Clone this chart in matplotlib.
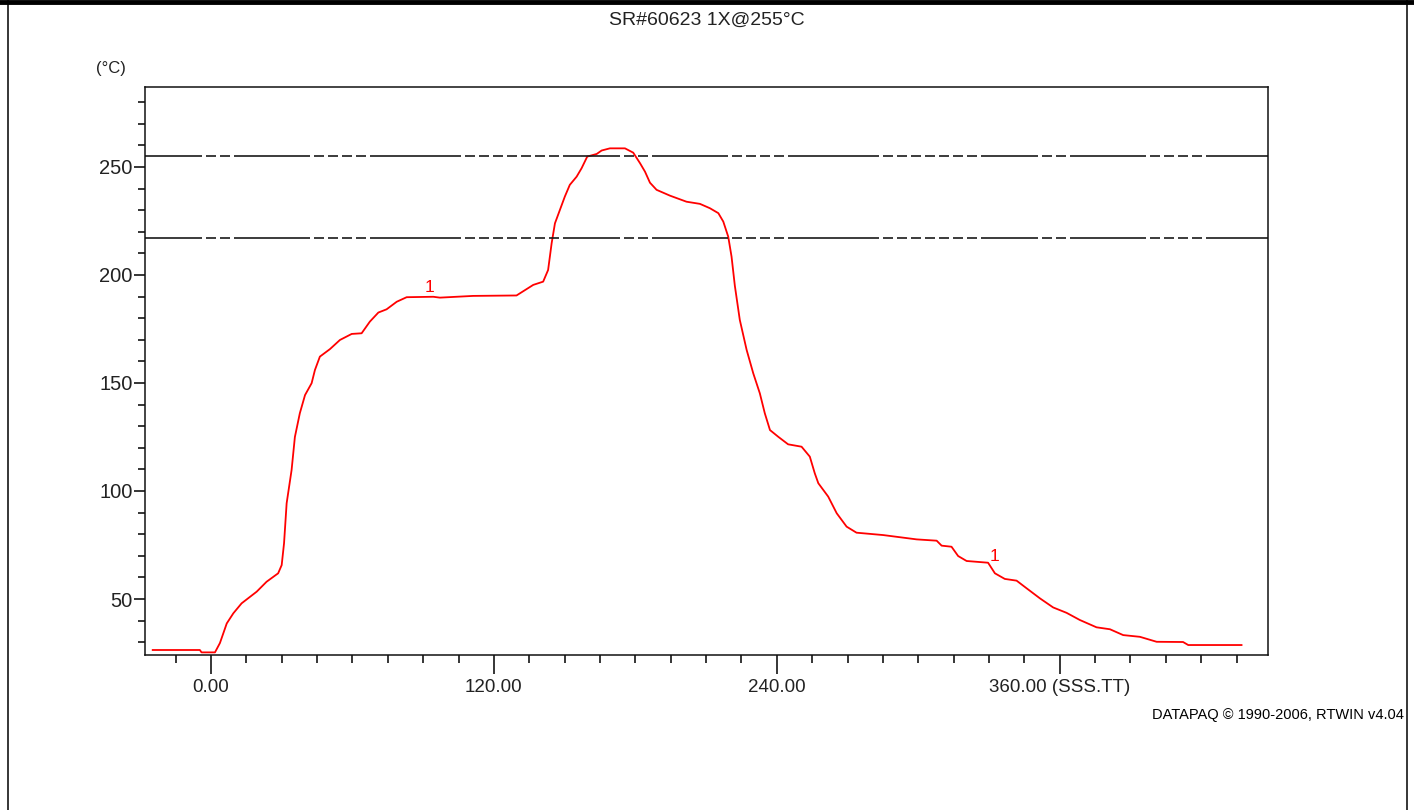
import numpy as np
import matplotlib
matplotlib.use("Agg")
import matplotlib.pyplot as plt
from matplotlib.lines import Line2D

###############################################################################
# Data (time in s, temperature in degC)
###############################################################################
timeS = [-24.7, -4.7, -4.0, 1.7, 3.8, 6.7, 9.5, 13.0, 19.4, 23.6, 28.5, 30.0,
         31.0, 32.1, 34.2, 35.6, 37.7, 39.9, 42.7, 44.1, 46.2, 50.5, 54.7,
         59.7, 63.9, 67.4, 71.0, 74.5, 78.8, 83.0, 94.3, 97.1, 111.2, 129.6,
         136.7, 140.9, 143.0, 144.5, 145.9, 148.0, 150.1, 152.2, 155.1,
         157.2, 159.6, 163.6, 165.7, 169.2, 175.6, 179.1, 182.0, 184.1,
         186.2, 189.0, 194.7, 201.7, 207.4, 211.6, 215.2, 217.3, 219.4,
         220.8, 222.2, 224.3, 227.2, 230.0, 232.8, 234.9, 237.1, 240.6,
         244.8, 250.5, 254.0, 256.1, 257.6, 261.8, 265.4, 269.6, 273.8,
         285.1, 299.3, 307.8, 309.9, 314.1, 316.9, 320.5, 329.6, 332.5,
         336.7, 341.7, 345.9, 351.6, 357.2, 362.9, 368.5, 375.6, 381.3,
         386.9, 394.0, 401.1, 412.3, 414.5, 437.1]
tempC = [26.4, 26.4, 25.3, 25.3, 29.6, 38.7, 43.4, 48.0, 53.4, 58.0, 61.9,
         65.7, 75.8, 94.3, 109.7, 125.0, 136.0, 144.4, 149.9, 156.0, 162.2,
         165.7, 169.9, 172.7, 173.0, 178.4, 182.6, 184.1, 187.6, 189.7,
         189.9, 189.5, 190.3, 190.5, 195.4, 196.9, 202.3, 214.7, 223.9,
         230.1, 236.3, 241.7, 245.5, 249.4, 254.8, 256.0, 257.6, 258.6,
         258.6, 256.6, 251.7, 247.8, 242.7, 239.4, 236.7, 233.9, 232.9,
         230.9, 228.6, 224.7, 217.7, 208.5, 195.0, 179.2, 165.3, 154.5,
         145.2, 136.0, 128.2, 125.1, 121.6, 120.5, 115.9, 108.2, 103.6,
         97.4, 89.7, 83.5, 80.7, 79.6, 77.6, 77.0, 74.7, 74.2, 69.9, 67.6,
         66.8, 61.9, 59.3, 58.5, 55.0, 50.3, 46.1, 43.6, 40.3, 36.9, 36.0,
         33.3, 32.5, 30.2, 30.1, 28.7, 28.7]

limitLines = [255, 217]
markTimes = [92.9, 332.5]
markTemps = [194.4, 69.9]

xMajor = [0, 120, 240, 360]
xLabels = ["0.00", "120.00", "240.00", "360.00 (SSS.TT)"]
yMajor = [50, 100, 150, 200, 250]

TITLE = "SR#60623 1X@255°C"
CREDIT = "DATAPAQ © 1990-2006, RTWIN v4.04"

###############################################################################
# Style
###############################################################################
plt.rcParams['font.family'] = ['Liberation Sans', 'DejaVu Sans']
plt.rcParams['lines.scale_dashes'] = False
TXT = '#222222'

fig = plt.figure(figsize=(14.14, 8.10), dpi=100)
ax = fig.add_axes([0.1025, 0.1914, 0.7942, 0.7012])

#Page frame: thick top rule plus thin side rules
fig.add_artist(Line2D([0, 1], [0.9975, 0.9975], transform=fig.transFigure,
                      color='black', linewidth=3.5))
for xf in [0.0057, 0.9951]:
    fig.add_artist(Line2D([xf, xf], [0, 1], transform=fig.transFigure,
                          color='black', linewidth=1.1))

ax.plot(timeS, tempC, color='#ff0000', linewidth=1.3)

#Irregular dash pattern of the limit lines (pixel runs -> points)
def makeDashes(runs, on=10, off=4):
    seq = []
    for kind, length in runs:
        if kind == 's':
            seq += [length]
        else:
            n = max(1, int(round((length - off) / (on + off))))
            seq += [off] + [on, off] * (n - 1) + [on, off]
            seq = seq[:-1]
            seq += [off]
    if len(seq) % 2:
        seq += [off]
    return [v * 0.72 for v in seq]

runs = [('s', 57), ('d', 33), ('s', 76), ('d', 63), ('s', 91), ('d', 195),
        ('s', 60), ('d', 194), ('s', 117), ('d', 62), ('s', 83), ('d', 37),
        ('s', 60)]
dashSeq = makeDashes(runs)
for lim in limitLines:
    ax.axhline(lim, color='#1a1a1a', linewidth=1.2,
               linestyle=(0, dashSeq))

for t, v in zip(markTimes, markTemps):
    ax.text(t, v, "1", color='#ff0000', fontsize=12.5, ha='center', va='center')

ax.set_xlim(-28, 448.3)
ax.set_ylim(24.1, 287)

ax.set_xticks(xMajor)
ax.set_xticklabels(xLabels)
ax.set_xticks(np.arange(-15, 440, 15), minor=True)
ax.set_yticks(yMajor)
ax.set_yticks(np.arange(30, 290, 10), minor=True)

ax.tick_params(axis='x', which='major', length=14, width=1.1, direction='out',
               labelsize=13.5, labelcolor=TXT, pad=3)
ax.tick_params(axis='x', which='minor', length=5.5, width=1.1, direction='out')
ax.tick_params(axis='y', which='major', length=8, width=1.1, direction='out',
               labelsize=14.5, labelcolor=TXT, pad=1)
ax.tick_params(axis='y', which='minor', length=5, width=1.1, direction='out')

for sp in ax.spines.values():
    sp.set_linewidth(1.1)
    sp.set_color('#111111')

fig.text(0.5, 0.975, TITLE, ha='center', va='center', fontsize=14, color=TXT)
fig.text(0.0785, 0.916, "(°C)", ha='center', va='center', fontsize=12, color=TXT)
fig.text(0.9925, 0.117, CREDIT, ha='right', va='center', fontsize=10.5,
         color='black', family=['Liberation Sans Narrow', 'Liberation Sans'])

fig.savefig("out.png", dpi=100, facecolor='white')
